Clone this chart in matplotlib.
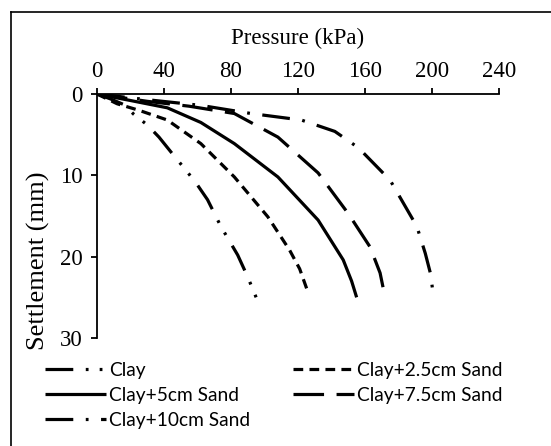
import matplotlib
matplotlib.use("Agg")
import matplotlib.pyplot as plt
from matplotlib.lines import Line2D

# ---- data ----
series_names = ["Clay", "Clay+2.5cm Sand", "Clay+5cm Sand", "Clay+7.5cm Sand", "Clay+10cm Sand"]

clay_p = [0, 8, 16, 22, 30, 37, 46, 54, 60, 66, 74, 84, 90, 95]
clay_s = [0, 0.6, 1.3, 2.5, 3.8, 5.3, 7.6, 9.6, 11.2, 13, 16.3, 19.8, 22.5, 25]

c25_p = [0, 12, 25, 42, 62, 82, 102, 115, 121, 126]
c25_s = [0, 1.2, 2.0, 3.2, 6.1, 10.2, 15.1, 19.2, 21.5, 24.4]

c5_p = [0, 20, 42, 62, 82, 108, 132, 147, 152, 155]
c5_s = [0, 0.8, 1.7, 3.5, 6.1, 10.2, 15.5, 20.4, 23, 25]

c75_p = [0, 30, 55, 82, 108, 132, 150, 163, 169, 172]
c75_s = [0, 0.9, 1.5, 2.4, 5.3, 9.7, 14.7, 18.8, 22, 25]

c10_p = [0, 30, 62, 92, 122, 142, 156, 175, 191, 196, 199, 201]
c10_s = [0, 0.7, 1.4, 2.4, 3.2, 4.6, 6.6, 10.6, 16.3, 19.6, 22, 25]

x_ticks = [0, 40, 80, 120, 160, 200, 240]
y_ticks = [0, 10, 20, 30]

# ---- styles ----
plt.rcParams['lines.scale_dashes'] = False
serif = "Liberation Serif"
legend_font = dict(family="Lato", size=13.8)
lw = 2.3
styles = [
    dict(dashes=(20, 9, 2, 8, 2, 9)),
    dict(dashes=(7, 4.5)),
    dict(linestyle='-'),
    dict(dashes=(22, 9)),
    dict(dashes=(20, 9, 2, 9)),
]

W, H = 551, 446
fig = plt.figure(figsize=(W / 100, H / 100), dpi=100)
ax = fig.add_axes([97 / W, 1 - 338 / H, (499 - 97) / W, (338 - 94) / H])

data = [(clay_p, clay_s), (c25_p, c25_s), (c5_p, c5_s), (c75_p, c75_s), (c10_p, c10_s)]
handles = []
for (p, s), name, st in zip(data, series_names, styles):
    ln, = ax.plot(p, s, color='black', lw=lw, label=name, solid_capstyle='butt',
                  dash_capstyle='butt', **st)
    handles.append(ln)

ax.set_xlim(0, 240)
ax.set_ylim(30, 0)
ax.xaxis.tick_top()
ax.xaxis.set_label_position('top')
ax.set_xticks(x_ticks)
ax.set_yticks(y_ticks)
for sp in ['right', 'bottom']:
    ax.spines[sp].set_visible(False)
for sp in ['top', 'left']:
    ax.spines[sp].set_linewidth(1.3)
ax.tick_params(axis='both', direction='out', length=4.5, width=1.3, labelsize=16.5)
ax.tick_params(axis='x', pad=4)
ax.tick_params(axis='y', pad=6)
for lab in ax.get_xticklabels() + ax.get_yticklabels():
    lab.set_fontfamily(serif)
ax.set_xlabel("Pressure (kPa)", fontsize=16.5, fontfamily=serif, labelpad=12)
ax.set_ylabel("Settlement (mm)", fontsize=19, fontfamily=serif)
ax.yaxis.set_label_coords((50 - 97) / (499 - 97), (338 - 261) / (338 - 94))

# legend: two columns, filled row by row in the reference
col1 = [0, 2, 4]
col2 = [1, 3]
common = dict(loc='upper left', frameon=False, handlelength=3.2, handletextpad=0.12,
              labelspacing=0.42, borderpad=0, borderaxespad=0, prop=legend_font)
leg1 = fig.legend([handles[i] for i in col1], [series_names[i] for i in col1],
                  bbox_to_anchor=(45 / W, 1 - 362 / H), **common)
leg2 = fig.legend([handles[i] for i in col2], [series_names[i] for i in col2],
                  bbox_to_anchor=(293 / W, 1 - 362 / H), **common)

# outer frame (left and top visible)
fig.add_artist(Line2D([11 / W, 11 / W], [0, 1 - 12 / H], transform=fig.transFigure,
                      color='black', lw=1.2))
fig.add_artist(Line2D([11 / W, 1], [1 - 12 / H, 1 - 12 / H], transform=fig.transFigure,
                      color='black', lw=1.2))

fig.savefig("out.png", dpi=100)
